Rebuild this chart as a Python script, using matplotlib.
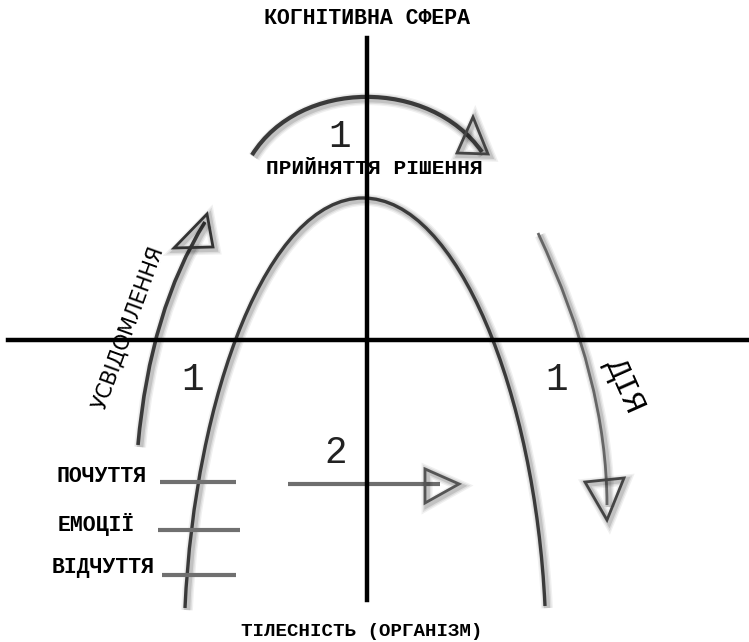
import matplotlib
matplotlib.use("Agg")
import matplotlib.pyplot as plt
from matplotlib.path import Path
from matplotlib.patches import PathPatch, Polygon
import matplotlib.patheffects as pe

# ---- diagram content ----
title_top = "КОГНІТИВНА СФЕРА"
title_bottom = "ТІЛЕСНІСТЬ (ОРГАНІЗМ)"
decision_label = "ПРИЙНЯТТЯ РІШЕННЯ"
awareness_label = "УСВІДОМЛЕННЯ"
action_label = "ДІЯ"
level_labels = ["ПОЧУТТЯ", "ЕМОЦІЇ", "ВІДЧУТТЯ"]
level_numbers = ["1", "1", "1", "2"]

# ---- geometry (pixel space) ----
W, H = 749, 642
axis_h = dict(y=340, x0=8, x1=749)
axis_v = dict(x=367, y0=38, y1=600)

arch_pts = [(185, 608), (195, 395), (268, 198), (363, 198),
            (458, 198), (535, 395), (545, 606)]
top_arc_pts = [(252, 155), (300, 78), (430, 78), (482, 152)]
left_arc_pts = [(138, 445), (150, 310), (205, 222)]
right_arc_pts = [(538, 233), (607, 380), (607, 505)]
mid_arrow = [(288, 484), (440, 484)]

top_head = [(473, 117), (457, 153), (488, 154)]
left_head = [(207, 214), (174, 248), (213, 247)]
right_head = [(585, 482), (624, 478), (607, 520)]
mid_head = [(425, 469), (425, 503), (459, 484)]

level_text_pos = [(102, 477), (96, 524), (103, 567)]
level_lines = [((160, 236), 482), ((158, 240), 530), ((162, 236), 575)]
number_pos = [(340, 137), (193, 380), (557, 380), (336, 453)]

fig = plt.figure(figsize=(W / 100, H / 100), dpi=100)
ax = fig.add_axes([0, 0, 1, 1])
ax.set_xlim(0, W)
ax.set_ylim(H, 0)
ax.axis("off")

def soft_shadow(width):
    effs = []
    for k, a in [(3.0, 0.06), (2.0, 0.08), (1.0, 0.12)]:
        effs.append(pe.Stroke(offset=(1.5, -1.5), linewidth=width + 2 * k,
                              foreground="black", alpha=a))
    effs.append(pe.Normal())
    return effs

C4, C3 = Path.CURVE4, Path.CURVE3
arch = Path(arch_pts, [Path.MOVETO, C4, C4, C4, C4, C4, C4])
top_arc = Path(top_arc_pts, [Path.MOVETO, C4, C4, C4])
left_arc = Path(left_arc_pts, [Path.MOVETO, C3, C3])
right_arc = Path(right_arc_pts, [Path.MOVETO, C3, C3])

for p, col, lw in [(arch, "#3a3a3a", 2.4), (top_arc, "#3a3a3a", 3.0),
                   (left_arc, "#3a3a3a", 2.6), (right_arc, "#666666", 2.0)]:
    patch = PathPatch(p, facecolor="none", edgecolor=col, lw=lw, capstyle="butt", zorder=3)
    patch.set_path_effects(soft_shadow(lw))
    ax.add_patch(patch)

# middle arrow line
ax.plot([mid_arrow[0][0], mid_arrow[1][0]], [mid_arrow[0][1], mid_arrow[1][1]],
        color="#6e6e6e", lw=3.0, solid_capstyle="butt", zorder=3)

for head, col in [(top_head, "#444444"), (left_head, "#333333"),
                  (right_head, "#444444"), (mid_head, "#555555")]:
    poly = Polygon(head, closed=True, facecolor="none", edgecolor=col, lw=2.0, zorder=4,
                   joinstyle="miter")
    poly.set_path_effects(soft_shadow(2.0))
    ax.add_patch(poly)

# level lines
for (x0, x1), y in level_lines:
    ax.plot([x0, x1], [y, y], color="#707070", lw=3.0, solid_capstyle="butt", zorder=3)

# axes
ax.plot([axis_h["x0"], axis_h["x1"]], [axis_h["y"], axis_h["y"]], color="black", lw=3.2, zorder=5)
ax.plot([axis_v["x"], axis_v["x"]], [axis_v["y0"], axis_v["y1"]], color="black", lw=3.2, zorder=5)

mono = ["Liberation Mono", "DejaVu Sans Mono"]
ax.text(367, 18, title_top, family=mono, weight="bold", fontsize=15.5, ha="center", va="center", zorder=6)
ax.text(362, 632, title_bottom, family=mono, weight="bold", fontsize=13.8, ha="center", va="center", zorder=6)
ax.text(374, 168, decision_label, family=mono, weight="bold", fontsize=15.3, ha="center", va="center", zorder=6)
for lbl, (x, y) in zip(level_labels, level_text_pos):
    ax.text(x, y, lbl, family=mono, weight="bold", fontsize=15.5, ha="center", va="center", zorder=6)
for n, (x, y) in zip(level_numbers, number_pos):
    ax.text(x, y, n, family=mono, fontsize=27, ha="center", va="center", color="#222222", zorder=6)

ax.text(128, 328, awareness_label, family=["Liberation Sans Narrow", "DejaVu Sans"], fontsize=15,
        rotation=70, ha="center", va="center", rotation_mode="anchor", zorder=6)
ax.text(624, 386, action_label, family=mono, fontsize=23, rotation=-66,
        ha="center", va="center", rotation_mode="anchor", zorder=6)

fig.savefig("out.png", dpi=100, facecolor="white")
